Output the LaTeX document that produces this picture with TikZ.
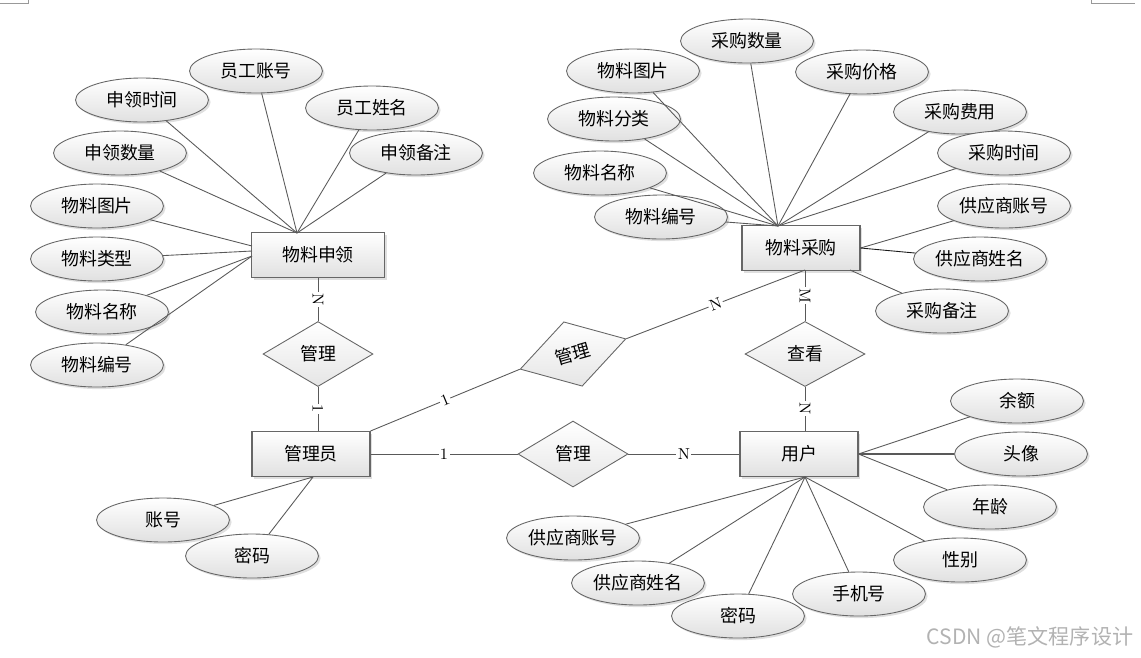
\documentclass[tikz,border=0pt]{standalone}
\usepackage{fontspec}
\usepackage{tikz}
\usetikzlibrary{shapes.geometric,shadows}
\newfontfamily\cjk{Noto Sans CJK SC}

\tikzset{
  link/.style={draw=black!65, line width=0.5pt},
  attr/.style={ellipse, draw=black!60, line width=0.5pt, top color=white, bottom color=black!12,
    minimum width=2.66cm, minimum height=0.88cm, inner sep=0pt,
    drop shadow={opacity=0.25, shadow xshift=1.2pt, shadow yshift=-1.2pt},
    font=\cjk\fontsize{10.2}{12}\selectfont},
  ent/.style={rectangle, draw=black!60, line width=0.6pt, top color=white, bottom color=black!12,
    minimum width=2.36cm, minimum height=0.9cm, inner sep=0pt,
    drop shadow={opacity=0.25, shadow xshift=1.2pt, shadow yshift=-1.2pt},
    font=\cjk\fontsize{10.2}{12}\selectfont},
  rel/.style={diamond, draw=black!60, line width=0.5pt, top color=white, bottom color=black!10,
    minimum width=2.2cm, minimum height=1.3cm, inner sep=0pt,
    font=\cjk\fontsize{10.2}{12}\selectfont},
  card/.style={fill=white, inner sep=0.8pt, sloped, font=\fontsize{9}{10}\selectfont},
  wm/.style={text=black!30, font=\cjk\fontsize{12}{14}\selectfont},
}

\begin{document}
\begin{tikzpicture}[x=0.02cm, y=-0.02cm]

\useasboundingbox (0,0) rectangle (1141,657);

\draw[black!40] (0,3) -- (28,3) -- (28,0);
\draw[black!40] (1091,0) -- (1091,3) -- (1135,3);

% 物料申领
\node[ent, minimum width=2.66cm] (apply) at (318,255) {物料申领};
\coordinate (apply-t) at (297,233);
\coordinate (apply-l1) at (252,246);
\coordinate (apply-l2) at (252,251);
\coordinate (apply-l3) at (252,256);

\node[attr] (ygzh) at (256,71) {员工账号};
\node[attr] (slsj) at (142,100) {申领时间};
\node[attr] (ygxm) at (372,108) {员工姓名};
\node[attr] (slsl) at (120,153) {申领数量};
\node[attr] (slbz) at (416,153) {申领备注};
\node[attr] (sltp) at (97,206) {物料图片};
\node[attr] (sllx) at (97,259) {物料类型};
\node[attr] (slmc) at (102,312) {物料名称};
\node[attr] (slbh) at (97,365) {物料编号};

\draw[link] (ygzh) -- (apply-t);
\draw[link] (slsj) -- (apply-t);
\draw[link] (ygxm) -- (apply-t);
\draw[link] (slsl) -- (apply-t);
\draw[link] (slbz) -- (apply-t);
\draw[link] (sltp) -- (apply-l1);
\draw[link] (sllx) -- (apply-l2);
\draw[link] (slmc) -- (apply-l3);
\draw[link] (slbh) -- (apply-l3);

% 物料采购
\node[ent] (purchase) at (801,248) {物料采购};
\coordinate (purchase-t) at (778,226);
\coordinate (purchase-b) at (805,270);
\coordinate (purchase-r) at (850,270);

\node[attr] (cgsl) at (747,41) {采购数量};
\node[attr] (cgtp) at (633,71) {物料图片};
\node[attr] (cgjg) at (862,72) {采购价格};
\node[attr] (cgfl) at (614,119) {物料分类};
\node[attr] (cgfy) at (960,112) {采购费用};
\node[attr] (cgsj) at (1004,153) {采购时间};
\node[attr] (cgmc) at (600,173) {物料名称};
\node[attr] (cgbh) at (661,217) {物料编号};
\node[attr] (gyzh) at (1004,206) {供应商账号};
\node[attr] (gyxm) at (980,259) {供应商姓名};
\node[attr] (cgbz) at (942,311) {采购备注};

\draw[link] (cgsl) -- (purchase-t);
\draw[link] (cgtp) -- (purchase-t);
\draw[link] (cgjg) -- (purchase-t);
\draw[link] (cgfl) -- (purchase-t);
\draw[link] (cgfy) -- (purchase-t);
\draw[link] (cgsj) -- (purchase-t);
\draw[link] (cgmc) -- (purchase-t);
\draw[link] (cgbh) -- (purchase-t);
\draw[link] (gyzh) -- (purchase.east);
\draw[link, draw=black!90] (gyxm) -- (purchase.east);
\draw[link] (cgbz) -- (purchase-r);

% 管理员
\node[ent] (admin) at (311,454) {管理员};
\coordinate (admin-b) at (313,477);
\node[attr] (zh) at (163,520) {账号};
\node[attr] (mm) at (252,556) {密码};
\draw[link] (zh) -- (admin-b);
\draw[link] (mm) -- (admin-b);

% 用户
\node[ent] (user) at (799,454) {用户};
\coordinate (user-b) at (805,477);

\node[attr] (ye) at (1017,401) {余额};
\node[attr] (tx) at (1021,454) {头像};
\node[attr] (nl) at (990,507) {年龄};
\node[attr] (xb) at (960,560) {性别};
\node[attr] (sjh) at (859,594) {手机号};
\node[attr] (yhmm) at (738,616) {密码};
\node[attr] (yhxm) at (638,583) {供应商姓名};
\node[attr] (yhzh) at (573,538) {供应商账号};

\draw[link] (ye) -- (user.east);
\draw[link, line width=0.8pt] (tx) -- (user.east);
\draw[link] (nl) -- (user.east);
\draw[link] (xb) -- (user-b);
\draw[link] (sjh) -- (user-b);
\draw[link] (yhmm) -- (user-b);
\draw[link] (yhxm) -- (user-b);
\draw[link] (yhzh) -- (user-b);

% 联系
\node[rel] (rel1) at (318,354) {管理};
\node[rel, minimum height=1.34cm, rotate=16] (rel2) at (573,354) {管理};
\node[rel, minimum height=1.32cm] (rel3) at (573,454) {管理};
\node[rel, minimum width=2.4cm] (rel4) at (805,354) {查看};

\draw[link] (apply.south) -- node[card] {N} (rel1.north);
\draw[link] (rel1.south) -- node[card] {1} (rel1.south |- admin.north);
\draw[link] (admin.north east) -- node[card] {1} (rel2.west);
\draw[link] (rel2.east) -- node[card] {N} (purchase-b);
\draw[link] (admin.east) -- node[card] {1} (rel3.west);
\draw[link] (rel3.east) -- node[card] {N} (user.west);
\draw[link] (purchase-b) -- node[card] {M} (rel4.north);
\draw[link] (rel4.south) -- node[card] {N} (rel4.south |- user.north);

\node[wm] (mark) at (1030,637) {CSDN @笔文程序设计};

\end{tikzpicture}
\end{document}
